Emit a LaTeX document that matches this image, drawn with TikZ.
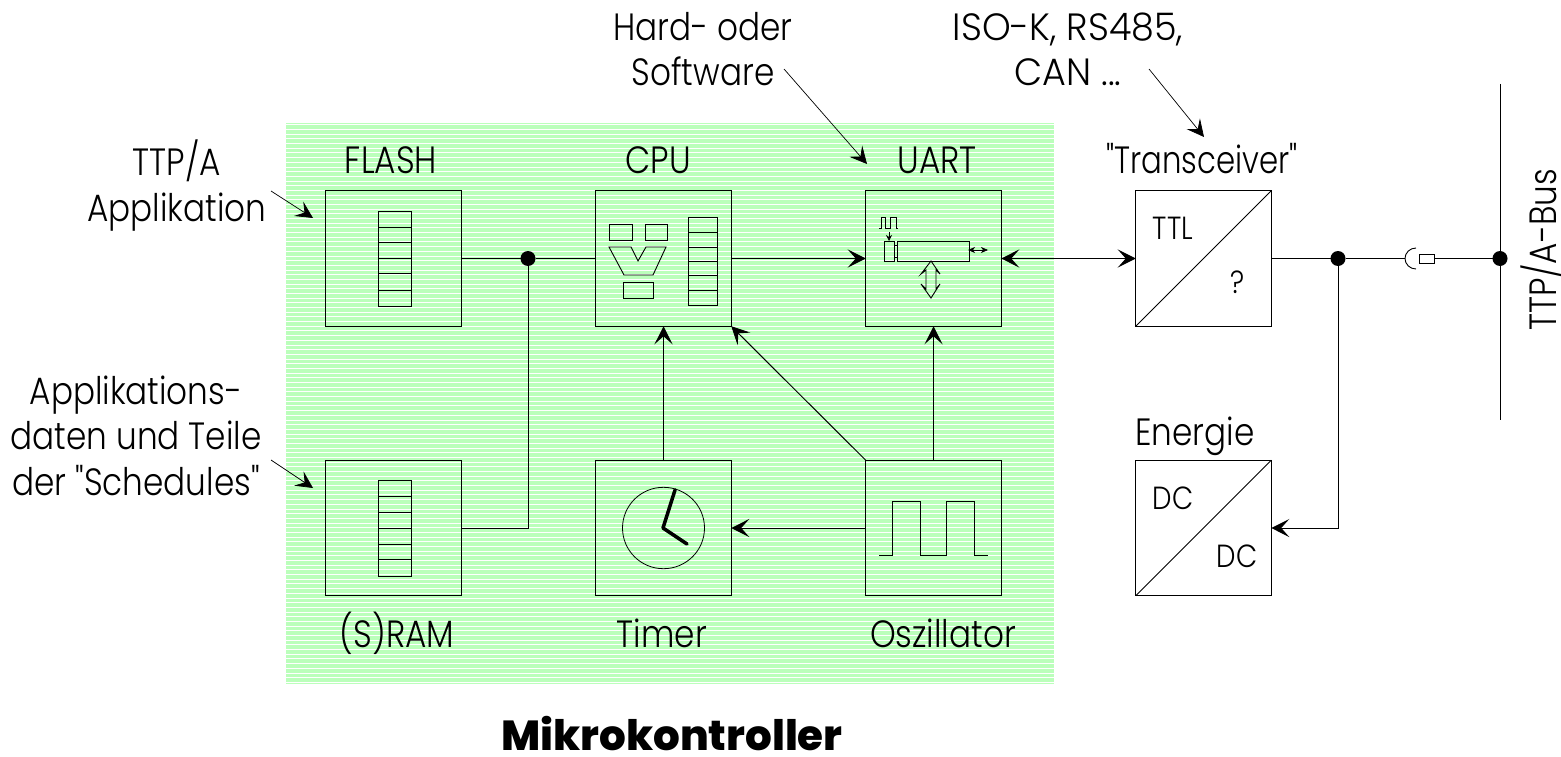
\documentclass[tikz,border=0pt]{standalone}
\usepackage{fontspec}
\defaultfontfeatures[\rmfamily]{}
\setmainfont{Poppins}[UprightFont=* Light,BoldFont=* ExtraBold,UprightFeatures={FakeStretch=.86}]
\newfontfamily\widefont{Poppins Light}[FakeStretch=.96]
\newfontfamily\tightfont{Poppins Light}[FakeStretch=.81]
\usetikzlibrary{arrows.meta}
\definecolor{bggreen}{HTML}{BBFFBB}
\tikzset{
  x=1pt,y=-1pt,
  every node/.style={inner sep=0pt,outer sep=0pt},
  block/.style={draw=black,line width=1pt,minimum width=135.5pt,minimum height=135.5pt},
  lab/.style={font=\fontsize{38}{45.5}\selectfont,anchor=base,align=center},
  small/.style={font=\fontsize{32}{34}\selectfont,anchor=base},
  dot/.style={circle,fill=black,minimum size=15pt},
  hd/.style={-{Stealth[length=18pt,width=18pt,inset=8pt]}},
  bhd/.style={{Stealth[length=18pt,width=18pt,inset=8pt]}-{Stealth[length=18pt,width=18pt,inset=8pt]}},
  wire/.style={line width=1pt,draw=black},
  note/.style={line width=.7pt,draw=black,-{Stealth[length=17pt,width=17pt,inset=7pt]}},
  detail/.style={line width=.9pt,draw=black},
}
\begin{document}
\begin{tikzpicture}
\useasboundingbox (0,0) rectangle (1561,757);
% background
\fill[bggreen] (285.5,123) rectangle (1053.5,683.5);
\foreach \ii in {0,...,119} \draw[white,line width=.9pt] (285.5,124.8+4.685*\ii) -- (1053.5,124.8+4.685*\ii);
% blocks
\node[block] (flash) at (393.5,258.5) {};
\node[block] (cpu) at (663.5,258.5) {};
\node[block] (uart) at (933.5,258.5) {};
\node[block] (trans) at (1203.5,258.5) {};
\node[block] (sram) at (393.5,528) {};
\node[block] (timer) at (663.5,528) {};
\node[block] (osc) at (933.5,528) {};
\node[block] (energy) at (1203.5,528) {};
% block labels
\node[lab] (lflash) at (391,174) {FLASH};
\node[lab] (lcpu) at (658,174) {CPU};
\node[lab] (luart) at (937,174) {UART};
\node[lab,font=\fontsize{38}{45.5}\tightfont] (ltrans) at (1202,174) {"Transceiver"};
\node[lab] (lsram) at (397,647) {(S)RAM};
\node[lab] (ltimer) at (662,647) {Timer};
\node[lab] (losc) at (943,647) {Oszillator};
\node[lab] (lenergy) at (1195,445) {Energie};
\node[lab,font=\fontsize{42}{45}\selectfont\bfseries] (title) at (672,750) {Mikrokontroller};
% annotations
\node[lab] (ntf) at (177,221) {TTP/A\\Applikation};
\node[lab] (nsr) at (136,495) {Applikations-\\daten und Teile\\der "Schedules"};
\node[lab] (nhw) at (703,86) {Hard- oder\\Software};
\node[lab,font=\fontsize{38}{45.5}\widefont] (nis) at (1068,86) {ISO-K, RS485,\\CAN ...};
\node[lab,rotate=90] (lbus) at (1556,250) {TTP/A-Bus};
\coordinate (a1s) at (271,191); \coordinate (a1e) at (313,218);
\coordinate (a2s) at (271,460); \coordinate (a2e) at (313,488);
\coordinate (a3s) at (784,69); \coordinate (a3e) at (867,164);
\coordinate (a4s) at (1149,69); \coordinate (a4e) at (1204,137);
\draw[note] (a1s) -- (a1e);
\draw[note] (a2s) -- (a2e);
\draw[note] (a3s) -- (a3e);
\draw[note] (a4s) -- (a4e);
% junctions and connectors
\node[dot] (j1) at (528,258.5) {};
\node[dot] (j2) at (1338,258.5) {};
\node[dot] (j3) at (1500,258.5) {};
\draw[wire] (flash.east) -- (j1) -- (cpu.west);
\draw[wire] (sram.east) -| (j1);
\draw[wire,hd] (cpu.east) -- (uart.west);
\draw[wire,bhd] (uart.east) -- (trans.west);
\draw[wire,hd] (timer.north) -- (cpu.south);
\draw[wire,hd] (osc.north west) -- (cpu.south east);
\draw[wire,hd] (osc.north) -- (uart.south);
\draw[wire,hd] (osc.west) -- (timer.east);
\draw[wire,hd] (j2) |- (energy.east);
\draw[wire] (trans.east) -- (j2);
% plug
\node[draw=black,line width=.8pt,minimum width=15pt,minimum height=9pt] (plug) at (1426.5,258.5) {};
\coordinate (sock) at (1405,258.5);
\draw[wire] (j2) -- (sock);
\draw[wire] (plug.east) -- (j3);
\draw[detail] (1416,248) arc[start angle=270,end angle=90,x radius=11,y radius=10.5];
% bus
\coordinate (bust) at (1500,84); \coordinate (busb) at (1500,420);
\draw[wire] (bust) -- (busb);
% converters
\draw[detail] (trans.south west) -- (trans.north east);
\draw[detail] (energy.south west) -- (energy.north east);
\node[small] (ttl) at (1173,239) {TTL};
\node[small] (qm) at (1238,293) {?};
\node[small] (dc1) at (1173,509) {DC};
\node[small] (dc2) at (1237,567) {DC};
% registers
\node[draw=black,line width=.9pt,minimum width=33pt,minimum height=95pt] (rf) at (394.5,258.5) {};
\foreach \yy in {227,242,258,273,290} \draw[detail] (378,\yy) -- (411,\yy);
\node[draw=black,line width=.9pt,minimum width=33pt,minimum height=96pt] (rs) at (394.5,528) {};
\foreach \yy in {496,512,528,544,559} \draw[detail] (378,\yy) -- (411,\yy);
\node[draw=black,line width=.9pt,minimum width=29pt,minimum height=88pt] (rc) at (702.5,261) {};
\foreach \yy in {232,247,261,275,290} \draw[detail] (688,\yy) -- (717,\yy);
% CPU details
\draw[detail] (609,224) rectangle (632,240);
\draw[detail] (645,224) rectangle (667,240);
\draw[detail] (609,247) -- (631,247) -- (638,261) -- (646,247) -- (666,247) -- (653,275) -- (624,275) -- cycle;
\draw[detail] (623,282) rectangle (653,298);
% UART details
\draw[line width=.7pt] (879,228) -- (881,228) -- (881,217) -- (885,217) -- (885,228) -- (890,228) -- (890,217) -- (896,217) -- (896,228) -- (898,228);
\draw[line width=.7pt,-{Stealth[length=6pt,width=6pt,inset=2pt]}] (889,232) -- (889,241);
\draw[detail] (884,241) rectangle (894,261);
\draw[detail] (897,241) rectangle (969,261);
\draw[line width=.7pt] (894,245) -- (897,245) (894,257) -- (897,257);
\draw[line width=.7pt,{Stealth[length=7pt,width=6pt,inset=2pt]}-{Stealth[length=7pt,width=6pt,inset=2pt]}] (968,250) -- (988,250);
\draw[detail] (931,261) -- (940,274) -- (936,270) -- (936,289) -- (940,284) -- (931,298) -- (921,284) -- (926,289) -- (926,270) -- (921,274) -- cycle;
% clock
\draw[line width=.8pt] (663.5,528) ellipse[x radius=41,y radius=40.7];
\draw[line width=3.5pt,line cap=round,line join=round] (675,490) -- (663,528) -- (687,544);
% oscillator
\draw[detail] (879,555) -- (892,555) -- (892,501) -- (920,501) -- (920,555) -- (946,555) -- (946,501) -- (974,501) -- (974,555) -- (988,555);
\end{tikzpicture}
\end{document}
